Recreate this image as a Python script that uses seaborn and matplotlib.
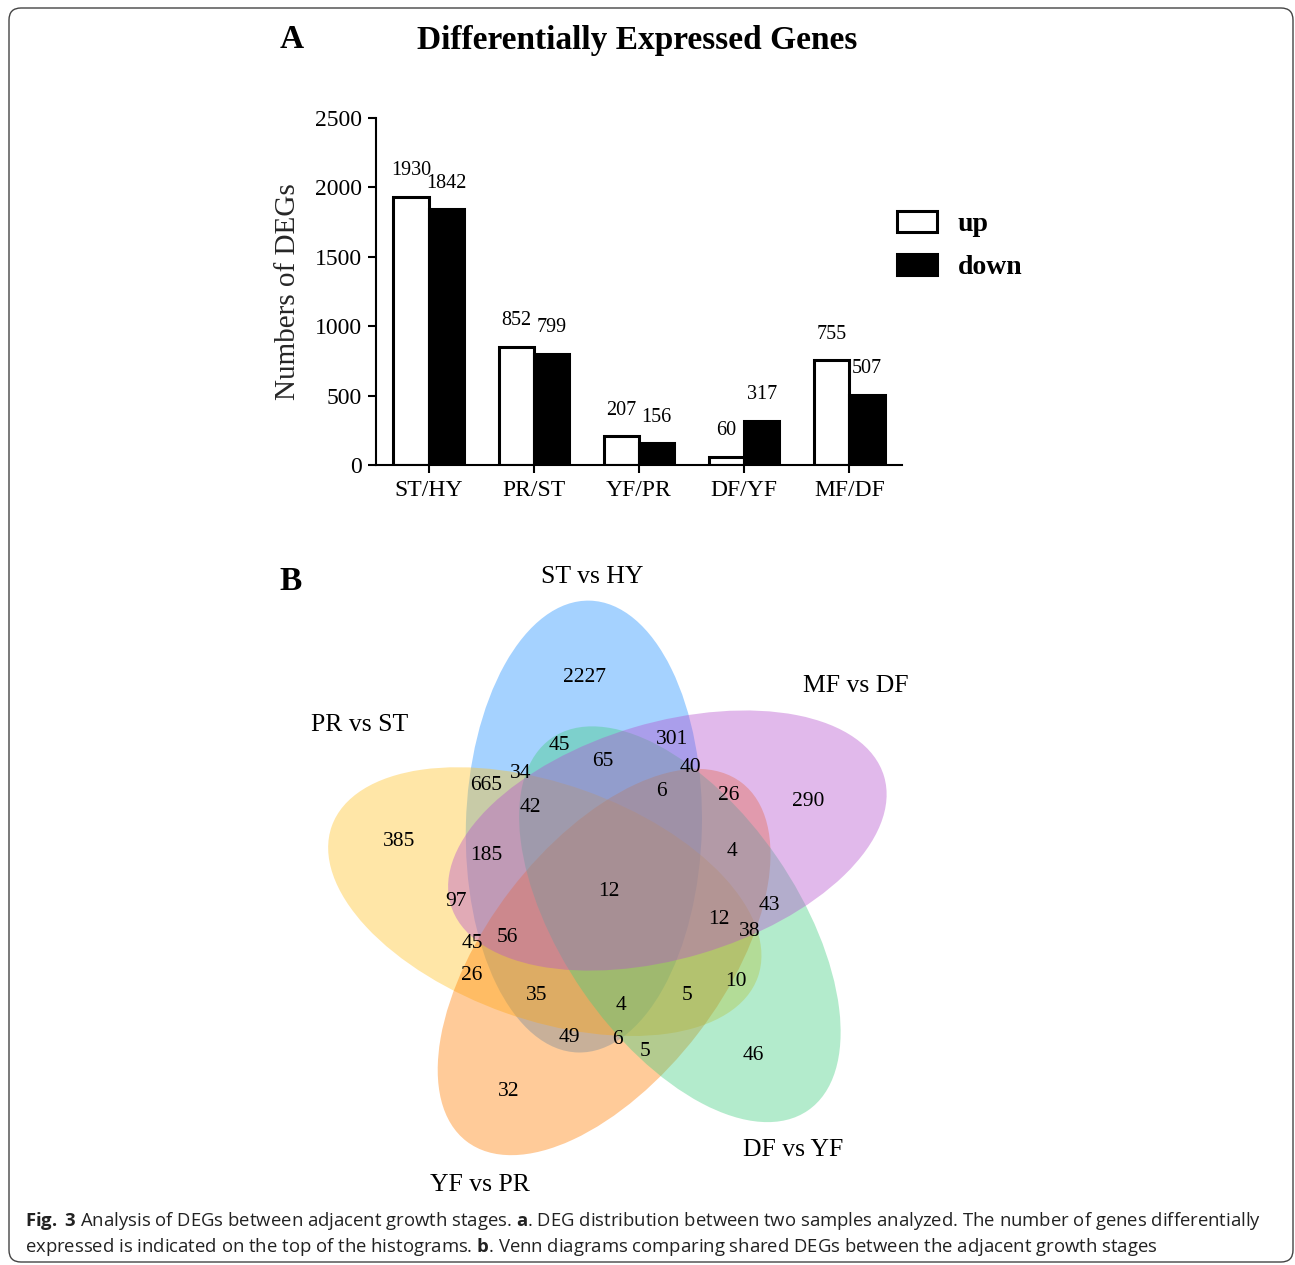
import numpy as np
import pandas as pd
import seaborn as sns
import matplotlib
matplotlib.use("Agg")
import matplotlib.pyplot as plt
from matplotlib import font_manager
from matplotlib.patches import Ellipse, FancyBboxPatch, Patch

# ---------------- panel A data
comparisons = ["ST/HY", "PR/ST", "YF/PR", "DF/YF", "MF/DF"]
up_counts = [1930, 852, 207, 60, 755]
down_counts = [1842, 799, 156, 317, 507]
y_ticks = [0, 500, 1000, 1500, 2000, 2500]

# ---------------- panel B data (5-set venn)
set_names = ["ST vs HY", "MF vs DF", "DF vs YF", "YF vs PR", "PR vs ST"]
set_colors = ["#1E90FF", "#B452CD", "#43CD80", "#FF7F00", "#FFC125"]
draw_order = [0, 4, 3, 2, 1]  # blue, yellow, orange, green, purple
region_counts = [2227, 45, 301, 65, 40, 34, 665, 6, 26, 290, 42, 385, 4, 185,
                 12, 97, 43, 12, 38, 56, 45, 26, 10, 35, 5, 4, 49, 6, 5, 46, 32]

# layout (figure pixels) -- kept apart from the values
W, H = 1295, 1265
label_pos = [(592, 577), (856, 686), (793, 1150), (480, 1185), (360, 725)]
region_pos = [(585, 677), (559, 745), (672, 740), (603, 762), (690, 767),
              (521, 773), (486, 785), (661, 792), (729, 795), (808, 802),
              (530, 808), (399, 842), (732, 851), (486, 856), (609, 892),
              (456, 902), (769, 906), (719, 919), (750, 931), (507, 937),
              (472, 944), (472, 975), (736, 981), (537, 996), (687, 996),
              (621, 1005), (569, 1038), (617, 1040), (645, 1051), (753, 1056),
              (509, 1091)]
venn_center = (616, 891)
venn_r, venn_a, venn_b = 72, 226, 118
venn_rot = 116.5

sns.set_style("ticks")
plt.rcParams["font.family"] = ["Liberation Serif", "DejaVu Serif"]
plt.rcParams["text.color"] = "black"
installed = {f.name for f in font_manager.fontManager.ttflist}
cap_font = "Liberation Sans Narrow" if "Liberation Sans Narrow" in installed else "Open Sans"
plt.rcParams["mathtext.fontset"] = "custom"
plt.rcParams["mathtext.rm"] = cap_font
plt.rcParams["mathtext.bf"] = cap_font + ":bold"

fig = plt.figure(figsize=(W / 100, H / 100), dpi=100)

# background axes in pixel units: venn, labels, caption, frame
bg = fig.add_axes([0, 0, 1, 1], zorder=0)
bg.set_xlim(0, W)
bg.set_ylim(H, 0)
bg.axis("off")

bg.add_patch(FancyBboxPatch((9, 8), W - 11, H - 11,
                            boxstyle="round,pad=0,rounding_size=12",
                            fill=False, edgecolor="#444444", lw=1))

for k in draw_order:
    phi = venn_rot - 72 * k
    cx = venn_center[0] + venn_r * np.cos(np.radians(phi))
    cy = venn_center[1] - venn_r * np.sin(np.radians(phi))
    bg.add_patch(Ellipse((cx, cy), 2 * venn_a, 2 * venn_b, angle=-(phi - 28),
                         facecolor=set_colors[k], alpha=0.4, edgecolor="none"))
for name, (x, y) in zip(set_names, label_pos):
    bg.text(x, y, name, ha="center", va="center", fontsize=18.5)

for n, (x, y) in zip(region_counts, region_pos):
    bg.text(x, y, str(n), ha="center", va="center", fontsize=15.5)

bg.text(292, 40, "A", ha="center", va="center", fontsize=24, fontweight="bold")
bg.text(291, 582, "B", ha="center", va="center", fontsize=24, fontweight="bold")
bg.text(637, 41, "Differentially Expressed Genes", ha="center", va="center",
        fontsize=24, fontweight="bold")

cap1 = (r"$\bf{Fig.}$ $\bf{3}$ Analysis of DEGs between adjacent growth stages. $\bf{a}$. "
        r"DEG distribution between two samples analyzed. The number of genes differentially")
cap2 = (r"expressed is indicated on the top of the histograms. $\bf{b}$. "
        r"Venn diagrams comparing shared DEGs between the adjacent growth stages")
bg.text(25, 1221, cap1, ha="left", va="center", fontsize=13.3, family=cap_font, color="#222222")
bg.text(25, 1247, cap2, ha="left", va="center", fontsize=13.3, family=cap_font, color="#222222")

# ---------------- panel A bar chart
df = pd.DataFrame({
    "comparison": comparisons * 2,
    "direction": ["up"] * len(comparisons) + ["down"] * len(comparisons),
    "count": up_counts + down_counts,
})

ax = fig.add_axes([376 / W, 1 - 465 / H, 526 / W, 347 / H], zorder=1)
ax.set_facecolor("none")
sns.barplot(data=df, x="comparison", y="count", hue="direction",
            palette={"up": "white", "down": "black"}, saturation=1,
            edgecolor="black", linewidth=2.2, width=0.67, gap=0,
            legend=False, ax=ax)
for cont, vals in zip(ax.containers, [up_counts, down_counts]):
    ax.bar_label(cont, labels=[str(v) for v in vals], padding=12, fontsize=14.5)

ax.set_xlim(-0.5, 4.5)
ax.set_ylim(0, 2500)
ax.set_yticks(y_ticks)
ax.set_xlabel("")
ax.set_ylabel("Numbers of DEGs", fontsize=21)
ax.yaxis.set_label_coords(-0.143, 0.5)
sns.despine(ax=ax)
for side in ["left", "bottom"]:
    ax.spines[side].set_linewidth(1.5)
    ax.spines[side].set_color("black")
ax.tick_params(axis="both", length=6, width=1.5, colors="black", labelsize=17)
ax.tick_params(axis="y", pad=4)
ax.tick_params(axis="x", pad=5)

handles = [Patch(facecolor="white", edgecolor="black", lw=2.2, label="up"),
           Patch(facecolor="black", edgecolor="black", lw=2.2, label="down")]
fig.legend(handles=handles, loc="upper left", bbox_to_anchor=(897 / W, 1 - 211 / H),
           frameon=False, prop=dict(weight="bold", size=20), handlelength=1.44,
           handleheight=0.8, handletextpad=0.75, labelspacing=0.6,
           borderpad=0, borderaxespad=0)

fig.savefig("out.png", dpi=100)
